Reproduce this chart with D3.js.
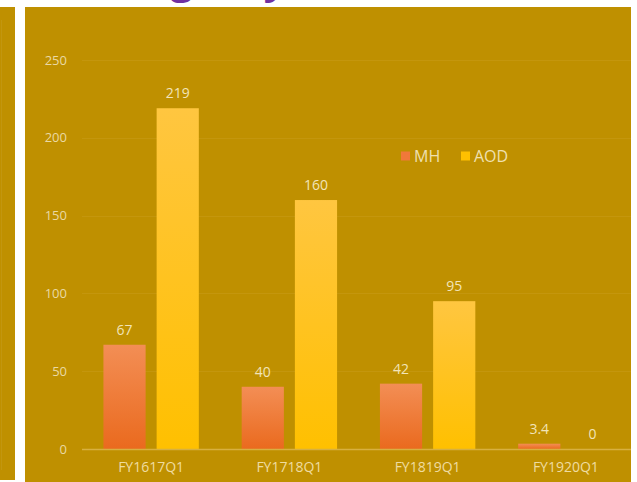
<!DOCTYPE html>
<html>
<head>
<meta charset="utf-8">
<script src="https://cdn.jsdelivr.net/npm/d3@7"></script>
<style>
  html, body { margin: 0; padding: 0; background: #ffffff; }
  svg { display: block; }
  text { font-family: "Open Sans", Lato, sans-serif; }
</style>
</head>
<body>
<svg id="chart" width="637" height="482"></svg>
<script>
// Quarterly counts for the two series
const categories = ["FY1617Q1", "FY1718Q1", "FY1819Q1", "FY1920Q1"];
const seriesNames = ["MH", "AOD"];
const mhValues = [67, 40, 42, 3.4];
const aodValues = [219, 160, 95, 0];
const yTickValues = [0, 50, 100, 150, 200, 250];

const svg = d3.select("#chart");
const gold = "#BF9000";

// Heading sitting above the panels (only its descenders reach into view)
svg.append("text")
  .attr("x", 143).attr("y", -6)
  .attr("font-family", "Lato, sans-serif")
  .attr("font-weight", "bold")
  .attr("font-size", 40)
  .attr("fill", "#7030A0")
  .text("Agency");

// Neighbouring panel on the left edge
svg.append("rect").attr("x", 0).attr("y", 7).attr("width", 15).attr("height", 473).attr("fill", gold);
svg.append("line").attr("x1", 1.5).attr("x2", 1.5).attr("y1", 20).attr("y2", 470)
  .attr("stroke", "rgba(255,255,255,0.06)");

// Main panel
const panel = { x: 25, y: 7, w: 606, h: 475 };
const defs = svg.append("defs");
defs.append("clipPath").attr("id", "panelClip")
  .append("rect").attr("x", panel.x).attr("y", panel.y).attr("width", panel.w).attr("height", panel.h);

const mhGrad = defs.append("linearGradient").attr("id", "mhGrad")
  .attr("x1", 0).attr("y1", 0).attr("x2", 0).attr("y2", 1);
mhGrad.append("stop").attr("offset", "0%").attr("stop-color", "#F38E55");
mhGrad.append("stop").attr("offset", "100%").attr("stop-color", "#EA6A1E");

const aodGrad = defs.append("linearGradient").attr("id", "aodGrad")
  .attr("x1", 0).attr("y1", 0).attr("x2", 0).attr("y2", 1);
aodGrad.append("stop").attr("offset", "0%").attr("stop-color", "#FFC640");
aodGrad.append("stop").attr("offset", "100%").attr("stop-color", "#FFC000");

const root = svg.append("g").attr("clip-path", "url(#panelClip)");
root.append("rect").attr("x", panel.x).attr("y", panel.y)
  .attr("width", panel.w).attr("height", panel.h).attr("fill", gold);

// Scales
const y = d3.scaleLinear().domain([0, 250]).range([449, 60]);
const x0 = d3.scaleBand().domain(categories).range([82, 635])
  .paddingInner(0.31).paddingOuter(0.155);
const x1 = d3.scaleBand().domain(seriesNames).range([0, x0.bandwidth()])
  .paddingInner(0.207).paddingOuter(0);

const fills = { MH: "url(#mhGrad)", AOD: "url(#aodGrad)" };
const legendColors = { MH: "#F0783A", AOD: "#FFC000" };

// Gridlines
root.append("g").selectAll("line")
  .data(yTickValues.filter(v => v > 0))
  .join("line")
  .attr("x1", 82).attr("x2", panel.x + panel.w)
  .attr("y1", d => Math.round(y(d)) + 0.5).attr("y2", d => Math.round(y(d)) + 0.5)
  .attr("stroke", "rgba(255,235,170,0.08)").attr("stroke-width", 1);

// Y axis labels
const yAxis = d3.axisLeft(y).tickValues(yTickValues).tickSize(0).tickPadding(0);
const yAxisG = root.append("g").attr("transform", "translate(67,0)").call(yAxis);
yAxisG.select(".domain").remove();
yAxisG.selectAll("text")
  .attr("fill", "#EAD9A4").attr("font-size", 13)
  .attr("font-family", "\"Open Sans\", Lato, sans-serif");

// Bars
const rows = categories.map((c, i) => ({ cat: c, vals: [
  { key: "MH", value: mhValues[i] },
  { key: "AOD", value: aodValues[i] }
]}));

const groups = root.append("g").selectAll("g")
  .data(rows).join("g")
  .attr("transform", d => `translate(${x0(d.cat)},0)`);

groups.selectAll("rect")
  .data(d => d.vals).join("rect")
  .attr("x", d => x1(d.key))
  .attr("width", x1.bandwidth())
  .attr("y", d => y(d.value))
  .attr("height", d => y(0) - y(d.value))
  .attr("fill", d => fills[d.key]);

groups.selectAll("text.val")
  .data(d => d.vals).join("text")
  .attr("class", "val")
  .attr("x", d => x1(d.key) + x1.bandwidth() / 2)
  .attr("y", d => y(d.value) - 10)
  .attr("text-anchor", "middle")
  .attr("font-size", 14)
  .attr("fill", "#F2E4B8")
  .text(d => d.value);

// Zero baseline
root.append("line")
  .attr("x1", 82).attr("x2", panel.x + panel.w)
  .attr("y1", y(0) + 0.5).attr("y2", y(0) + 0.5)
  .attr("stroke", "#D8B040").attr("stroke-width", 1.5);

// Category axis
const xAxis = d3.axisBottom(x0).tickSize(0).tickPadding(0);
const xAxisG = root.append("g").attr("transform", `translate(0,${y(0) + 13})`).call(xAxis);
xAxisG.select(".domain").remove();
xAxisG.selectAll("text")
  .attr("fill", "#EFDCA0").attr("font-size", 14)
  .attr("dy", "0.71em")
  .attr("font-family", "\"Open Sans\", Lato, sans-serif");

// Legend
const legend = root.append("g").attr("transform", "translate(401,156)");
const legendItems = [{ key: "MH", dx: 0 }, { key: "AOD", dx: 60 }];
const li = legend.selectAll("g").data(legendItems).join("g")
  .attr("transform", d => `translate(${d.dx},0)`);
li.append("rect").attr("x", 0).attr("y", -4.5).attr("width", 9).attr("height", 9)
  .attr("fill", d => legendColors[d.key]);
li.append("text").attr("x", 13).attr("y", 0).attr("dy", "0.36em")
  .attr("font-size", 16).attr("fill", "#EFE0B0")
  .text(d => d.key);
</script>
</body>
</html>
